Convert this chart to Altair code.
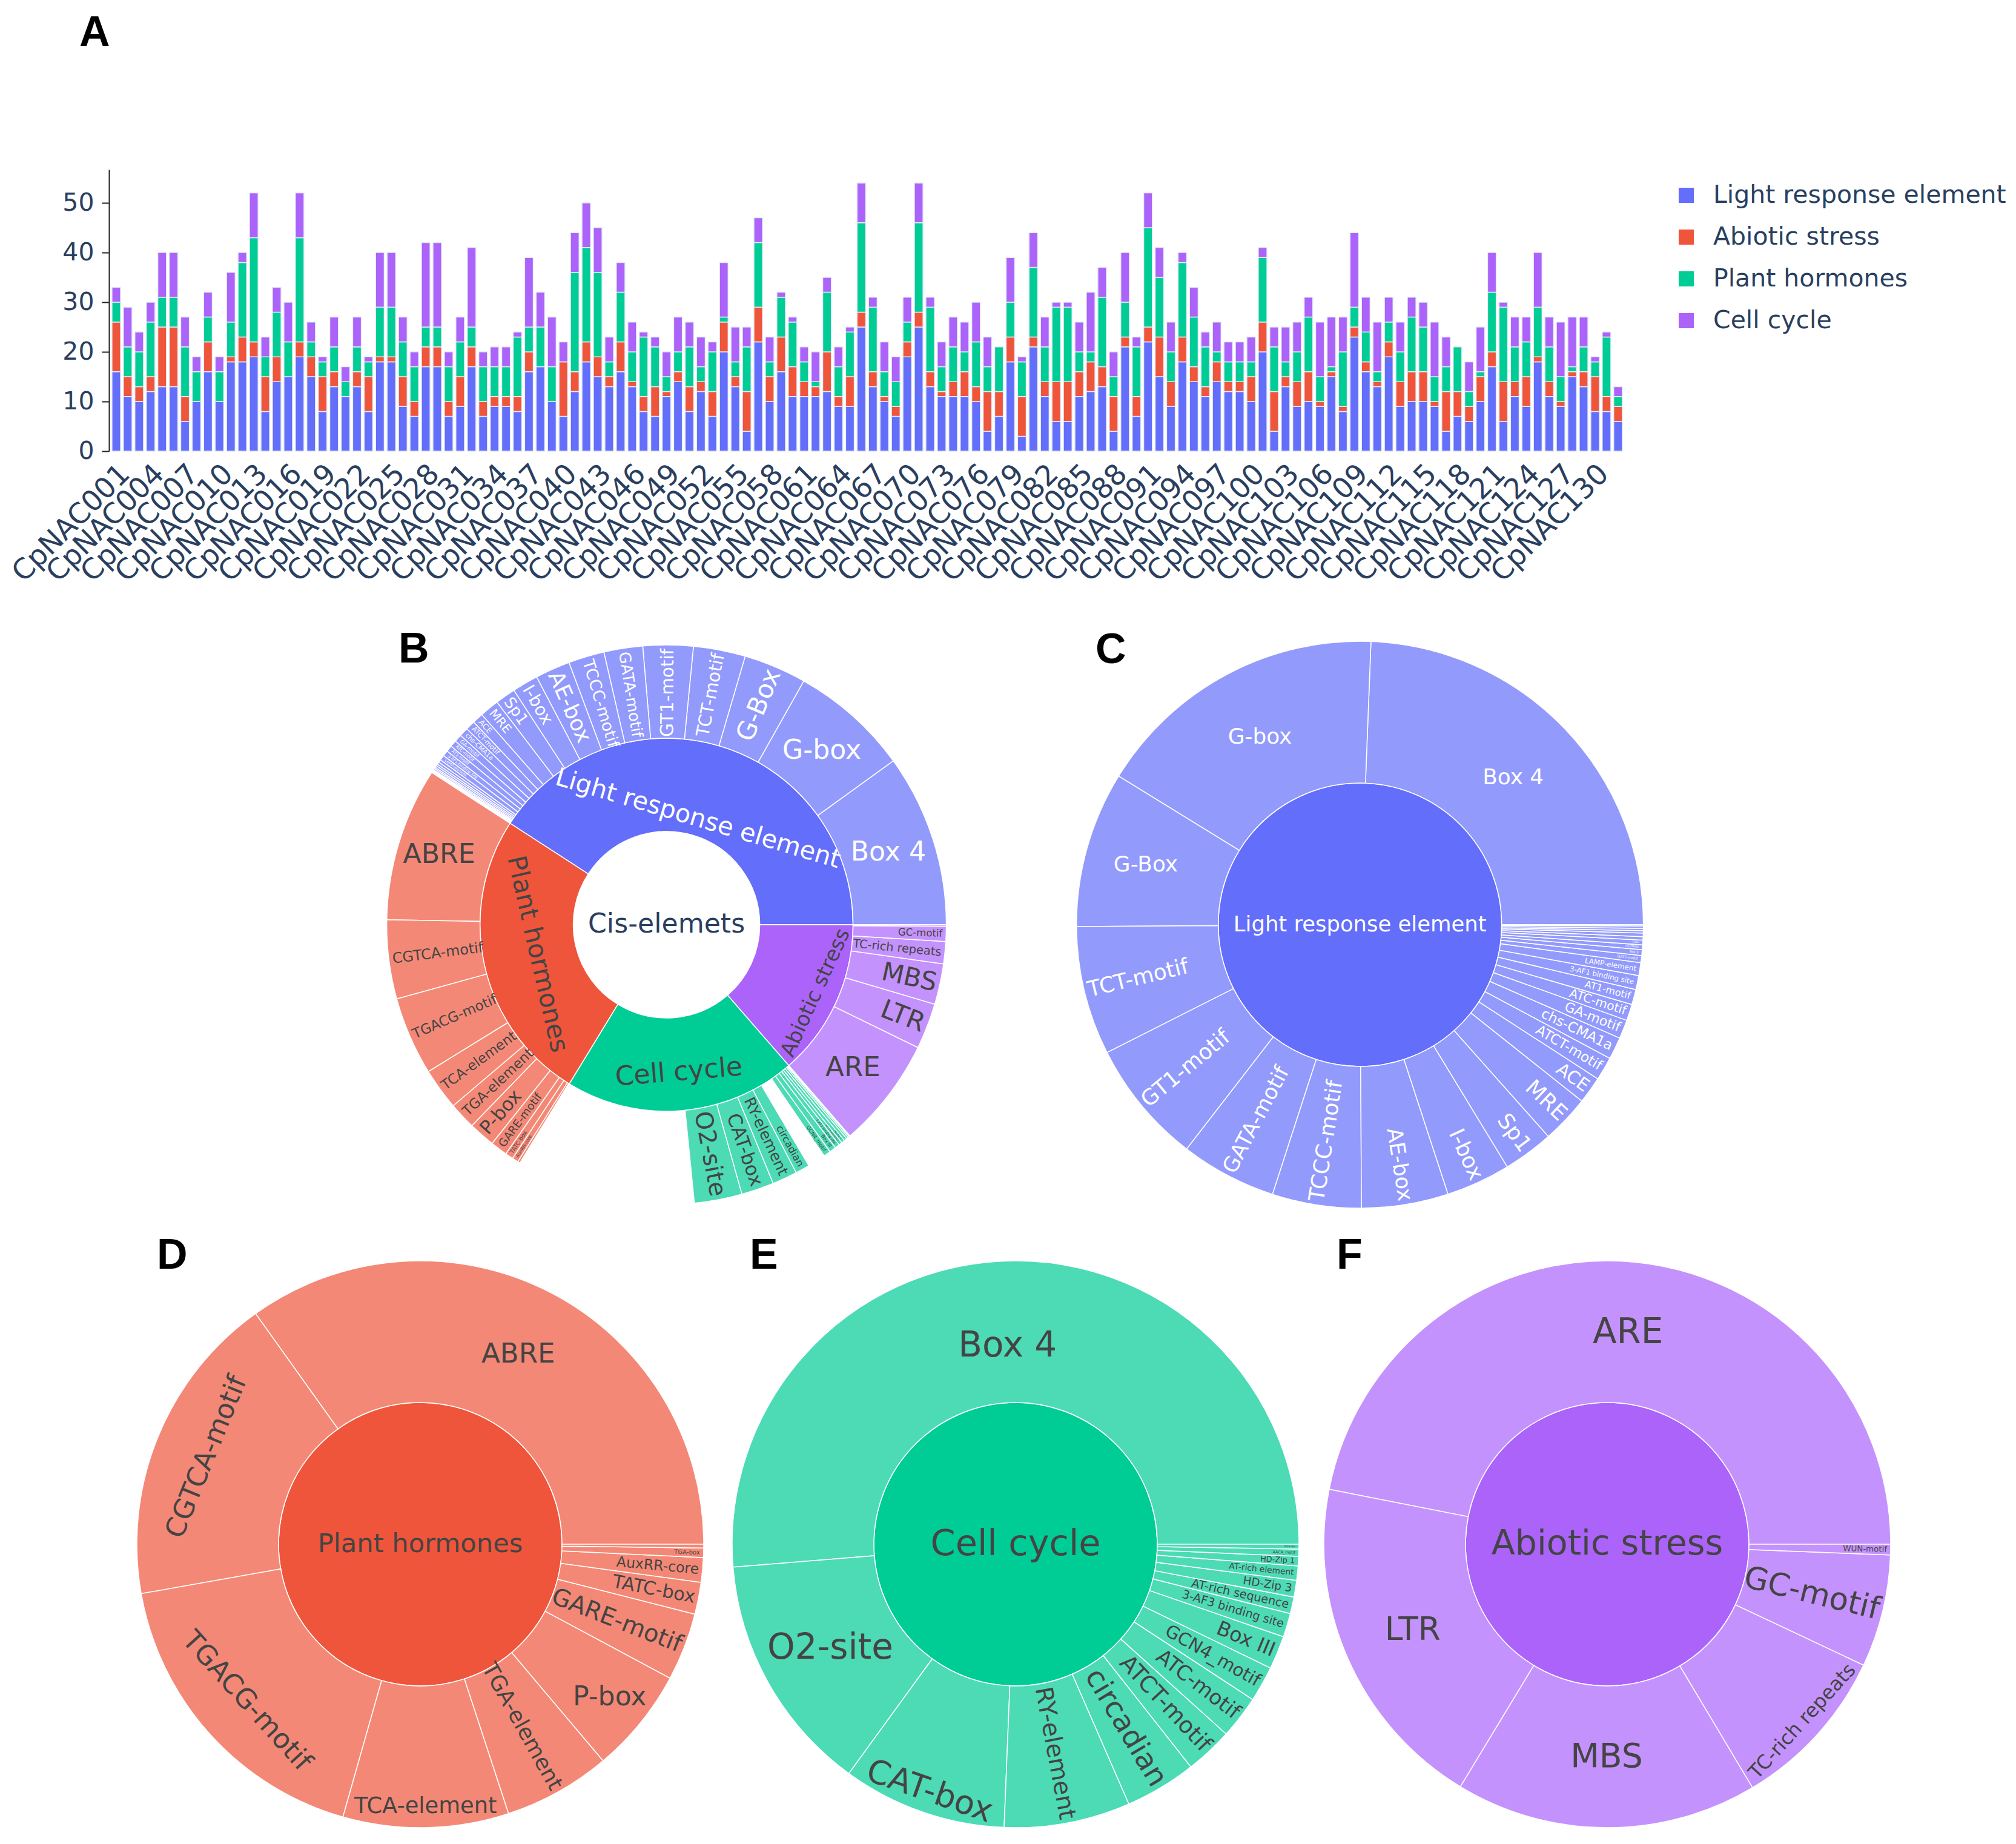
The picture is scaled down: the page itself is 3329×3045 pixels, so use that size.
import math
import pandas as pd
import altair as alt

# ======================= DATA : panel A =======================
genes = [f"CpNAC{i:03d}" for i in range(1, 133)]

light_response = [16,11,10,12,13,13,6,10,16,10,
                  18,18,19,8,14,15,19,15,8,13,
                  11,13,8,18,18,9,7,17,17,7,
                  9,17,7,9,9,8,16,17,10,7,
                  12,18,15,13,16,13,8,7,11,14,
                  8,12,7,20,13,4,22,10,16,11,
                  11,11,12,9,9,25,13,10,7,19,
                  25,13,11,11,11,10,4,7,18,3,
                  21,11,6,6,11,12,13,4,21,7,
                  22,15,9,18,14,11,14,12,12,10,
                  20,4,13,9,10,9,15,8,23,16,
                  13,19,9,10,10,9,4,7,6,10,
                  17,6,11,9,18,11,9,15,13,8,
                  8,6]
abiotic_stress = [10,4,3,3,12,12,5,0,6,0,
                  1,5,3,7,5,0,3,4,7,3,
                  0,3,7,1,1,6,3,4,4,3,
                  6,4,3,2,2,3,4,0,0,11,
                  4,4,4,2,6,1,3,6,1,2,
                  5,2,5,6,2,8,7,5,7,6,
                  3,2,8,2,6,3,3,1,2,3,
                  3,3,1,3,5,3,8,5,5,8,
                  2,3,8,8,5,6,4,7,2,4,
                  3,8,5,5,3,2,4,2,2,5,
                  6,8,2,5,6,1,1,1,2,2,
                  1,3,5,6,6,1,8,5,3,5,
                  3,8,3,6,1,3,1,1,3,7,
                  3,3]
plant_hormones = [4,6,7,11,6,6,10,6,5,6,
                  7,15,21,4,9,7,21,3,3,5,
                  3,5,3,10,10,7,7,4,4,7,
                  7,4,7,6,6,12,5,8,7,0,
                  20,19,17,3,10,6,12,8,3,4,
                  8,3,8,1,3,9,13,3,8,9,
                  4,1,12,6,9,18,13,5,5,4,
                  18,13,5,7,4,9,5,9,7,7,
                  14,7,15,15,4,2,14,4,7,10,
                  20,12,6,15,10,8,2,4,4,3,
                  13,9,3,6,11,5,1,11,4,6,
                  2,4,6,11,9,5,5,9,3,1,
                  12,15,7,7,10,7,5,1,5,3,
                  12,2]
cell_cycle = [3,8,4,4,9,9,6,3,5,3,
              10,2,9,4,5,8,9,4,1,6,
              3,6,1,11,11,5,3,17,17,3,
              5,16,3,4,4,1,14,7,10,4,
              8,9,9,5,6,6,1,2,5,7,
              5,6,2,11,7,4,5,5,1,1,
              3,6,3,4,1,8,2,6,5,5,
              8,2,5,6,6,8,6,0,9,1,
              7,6,1,1,6,12,6,5,10,2,
              7,6,6,2,6,3,6,4,4,5,
              2,4,7,6,4,11,10,7,15,7,
              10,5,6,4,5,11,6,0,6,9,
              8,1,6,5,11,6,11,10,6,1,
              1,2]

bar_categories = ["Light response element", "Abiotic stress", "Plant hormones", "Cell cycle"]
x_tick_labels = genes[::3]
y_ticks = [0, 10, 20, 30, 40, 50]

# ======================= DATA : sunbursts =======================
root_label = "Cis-elemets"
groups = ["Light response element", "Plant hormones", "Cell cycle", "Abiotic stress"]

light_elements = ["Box 4", "G-box", "G-Box", "TCT-motif", "GT1-motif", "GATA-motif", "TCCC-motif",
                  "AE-box", "I-box", "Sp1", "MRE", "ACE", "ATCT-motif", "chs-CMA1a", "GA-motif",
                  "ATC-motif", "AT1-motif", "3-AF1 binding site", "LAMP-element", "GATT-motif",
                  "Box II", "chs-CMA2a", "L-box", "Gap-box", "CAG-motif", "ACA-motif", "AAAC-motif",
                  "4cl-CMA2b", "Pc-CMA2c"]
light_counts = [365, 252, 133, 110, 106, 82, 76, 74, 55, 43, 41, 23, 20, 19, 16, 14, 13, 12, 11,
                6, 5, 4, 4, 3, 3, 2, 2, 2, 1]

hormone_elements = ["ABRE", "CGTCA-motif", "TGACG-motif", "TCA-element", "TGA-element", "P-box",
                    "GARE-motif", "TATC-box", "AuxRR-core", "TGA-box", "SARE"]
hormone_counts = [325, 167, 166, 88, 57, 56, 36, 17, 13, 5, 2]

cell_elements = ["Box 4", "O2-site", "CAT-box", "RY-element", "circadian", "ATCT-motif", "ATC-motif",
                 "GCN4_motif", "Box III", "3-AF3 binding site", "AT-rich sequence", "HD-Zip 3",
                 "AT-rich element", "HD-Zip 1", "AACA_motif", "MSA-like"]
cell_counts = [378, 101, 69, 53, 30, 20, 18, 15, 14, 10, 7, 7, 6, 4, 3, 2]

abiotic_elements = ["ARE", "LTR", "MBS", "TC-rich repeats", "GC-motif", "WUN-motif"]
abiotic_counts = [234, 97, 86, 47, 32, 3]

# ======================= STYLE / LAYOUT =======================
W, H = 3313, 3029
M = 8                      # page margin: reference px -> chart px
FONT = "DejaVu Sans"
FSCALE = 0.92              # sunburst label sizes below were measured as Open Sans widths
DARK = "#444444"
NAVY = "#2a3f5f"
bar_colors = ["#636EFA", "#EF553B", "#00CC96", "#AB63FA"]
BASE = {"Light response element": "#636EFA", "Plant hormones": "#EF553B",
        "Cell cycle": "#00CC96", "Abiotic stress": "#AB63FA"}
LEAF = {"Light response element": "#929AFC", "Plant hormones": "#F48876",
        "Cell cycle": "#4CDBB5", "Abiotic stress": "#C492FC"}
TXT = {"Light response element": "white", "Plant hormones": DARK,
       "Cell cycle": DARK, "Abiotic stress": DARK}
TH = alt.Scale(domain=[0, 1], range=[2.5 * math.pi, 0.5 * math.pi])

children = {
    "Light response element": (light_elements, light_counts),
    "Plant hormones": (hormone_elements, hormone_counts),
    "Cell cycle": (cell_elements, cell_counts),
    "Abiotic stress": (abiotic_elements, abiotic_counts),
}

# label styles: (orientation, font size, [radial fraction])
B_inner_style = {"Light response element": ("t", 45, 0.18), "Plant hormones": ("t", 46, 0.42),
                 "Cell cycle": ("t", 48, 0.59), "Abiotic stress": ("t", 37, 0.76)}
B_outer_style = {
    ("Light response element", "Box 4"): ("h", 48, 0.5),
    ("Light response element", "G-box"): ("h", 48, 0.5),
    ("Light response element", "G-Box"): ("r", 46),
    ("Light response element", "TCT-motif"): ("r", 32),
    ("Light response element", "GT1-motif"): ("r", 32),
    ("Light response element", "GATA-motif"): ("r", 28),
    ("Light response element", "TCCC-motif"): ("r", 29),
    ("Light response element", "AE-box"): ("r", 39),
    ("Light response element", "I-box"): ("r", 31),
    ("Light response element", "Sp1"): ("r", 28),
    ("Light response element", "MRE"): ("r", 22),
    ("Plant hormones", "ABRE"): ("h", 48, 0.55),
    ("Plant hormones", "CGTCA-motif"): ("r", 26),
    ("Plant hormones", "TGACG-motif"): ("r", 25),
    ("Plant hormones", "TCA-element"): ("r", 25),
    ("Plant hormones", "TGA-element"): ("r", 25),
    ("Plant hormones", "P-box"): ("r", 34),
    ("Plant hormones", "GARE-motif"): ("r", 20),
    ("Cell cycle", "O2-site"): ("r", 43),
    ("Cell cycle", "CAT-box"): ("r", 34),
    ("Cell cycle", "RY-element"): ("r", 27),
    ("Cell cycle", "circadian"): ("r", 18),
    ("Abiotic stress", "ARE"): ("h", 49, 0.52),
    ("Abiotic stress", "LTR"): ("r", 47),
    ("Abiotic stress", "MBS"): ("r", 46),
    ("Abiotic stress", "TC-rich repeats"): ("r", 21),
    ("Abiotic stress", "GC-motif"): ("r", 18),
}
B_hidden = {("Cell cycle", "Box 4"), ("Cell cycle", "ATCT-motif"), ("Cell cycle", "ATC-motif")}

single_panels = [
    # group, center(ref px), center font, outer styles
    ("Light response element", (2245.7, 1527), 38.5, {
        "Box 4": ("h", 39, 0.5), "G-box": ("h", 39, 0.5), "G-Box": ("h", 39, 0.57),
        "TCT-motif": ("r", 39), "GT1-motif": ("r", 39), "GATA-motif": ("r", 38),
        "TCCC-motif": ("r", 39), "AE-box": ("r", 38), "I-box": ("r", 39), "Sp1": ("r", 39),
        "MRE": ("r", 39), "ACE": ("r", 32), "ATCT-motif": ("r", 25), "chs-CMA1a": ("r", 25),
        "GA-motif": ("r", 24), "ATC-motif": ("r", 22), "AT1-motif": ("r", 17.5),
        "3-AF1 binding site": ("r", 13), "LAMP-element": ("r", 13)}),
    ("Plant hormones", (694, 2550), 47, {
        "ABRE": ("h", 49, 0.51), "CGTCA-motif": ("t", 49, 0.63), "TGACG-motif": ("t", 49, 0.65),
        "TCA-element": ("h", 40, 0.85), "TGA-element": ("r", 39), "P-box": ("h", 48, 0.72),
        "GARE-motif": ("r", 43), "TATC-box": ("r", 33), "AuxRR-core": ("r", 25.7),
        "TGA-box": ("r", 11)}),
    ("Cell cycle", (1677, 2550), 64, {
        "Box 4": ("h", 63, 0.4), "O2-site": ("h", 63, 0.5), "CAT-box": ("t", 59, 0.85),
        "RY-element": ("r", 43), "circadian": ("r", 52), "ATCT-motif": ("r", 41),
        "ATC-motif": ("r", 37), "GCN4_motif": ("r", 32), "Box III": ("r", 36),
        "3-AF3 binding site": ("r", 21), "AT-rich sequence": ("r", 21), "HD-Zip 3": ("r", 20),
        "AT-rich element": ("r", 15), "HD-Zip 1": ("r", 14)}),
    ("Abiotic stress", (2654, 2550), 62, {
        "ARE": ("h", 63, 0.5), "LTR": ("h", 58, 0.5), "MBS": ("h", 60, 0.5),
        "TC-rich repeats": ("t", 35, 0.86), "GC-motif": ("r", 56), "WUN-motif": ("r", 14.5)}),
]
B_center = (1100.6, 1527)
B_radii = (154, 308, 462)
S_radii = (234, 468)

letters = [("A", 131, 76), ("B", 658, 1094), ("C", 1809, 1095),
           ("D", 259, 2095), ("E", 1238, 2095), ("F", 2207, 2095)]


# ======================= helpers =======================
def cumulate(counts, total):
    out, acc = [], 0.0
    for c in counts:
        out.append((acc / total, (acc + c) / total))
        acc += c
    return out


def auto_font(name, r0, r1, dt, cap=14.0):
    dth = dt * 2 * math.pi
    return min(cap, 1.15 * r0 * dth, (r1 - r0 - 10) / (0.56 * len(name)))


def label_row(label, t0, t1, r0, r1, spec, color):
    tm = (t0 + t1) / 2.0
    phi = 360.0 * tm
    orient, fs = spec[0], spec[1]
    rfrac = spec[2] if len(spec) > 2 else 0.5
    if orient == "h":
        rot, align, r = 0.0, "center", r0 + rfrac * (r1 - r0)
    elif orient == "t":
        rot = (90.0 - phi) % 360.0
        if 90.0 < rot <= 270.0:
            rot -= 180.0
        align, r = "center", r0 + rfrac * (r1 - r0)
    else:
        rot = (-phi) % 360.0
        flipped = 90.0 < rot <= 270.0
        if flipped:
            rot -= 180.0
        align = "left" if flipped else "right"
        r = r1 - 6.0
    return dict(label=label, tm=tm, r=r, rot=rot % 360.0, fs=fs * FSCALE, tc=color, align=align)


def arc_layer(rows, cx, cy, r0, r1):
    df = pd.DataFrame(rows)
    return alt.Chart(df).mark_arc(radius=r1, radius2=r0, stroke="white", strokeWidth=1.5).encode(
        theta=alt.Theta("t0:Q", scale=TH, stack=None),
        theta2="t1:Q",
        fill=alt.Fill("fill:N", scale=None),
        x=alt.value(cx), y=alt.value(cy),
    )


def text_layers(rows, cx, cy):
    df = pd.DataFrame(rows)
    out = []
    for al in ["center", "right", "left"]:
        sub = df[df["align"] == al]
        if len(sub) == 0:
            continue
        out.append(alt.Chart(sub).mark_text(align=al, baseline="middle", font=FONT).encode(
            theta=alt.Theta("tm:Q", scale=TH, stack=None),
            radius=alt.Radius("r:Q", scale=None),
            text="label:N",
            angle=alt.Angle("rot:Q", scale=None),
            size=alt.Size("fs:Q", scale=None),
            fill=alt.Fill("tc:N", scale=None),
            x=alt.value(cx), y=alt.value(cy),
        ))
    return out


layers = []

# ======================= panel A : stacked bars =======================
rows = []
for k, (cat, vals) in enumerate(zip(bar_categories,
                                    [light_response, abiotic_stress, plant_hormones, cell_cycle])):
    for g, v in zip(genes, vals):
        if v > 0:
            rows.append(dict(gene=g, category=cat, value=v, ord=k))
bars_df = pd.DataFrame(rows)

STEP = 18.93
X0 = 182.5 - M
Y_ZERO = 745 - M
Y_TOP = 280 - M
Y_MAX = (745 - 280) / 8.2

bars = alt.Chart(bars_df).mark_bar(stroke="#E5ECF6", strokeWidth=1.5).encode(
    x=alt.X("gene:N", sort=genes,
            scale=alt.Scale(range=[X0, X0 + STEP * len(genes)], paddingInner=0.25, paddingOuter=0.125),
            axis=alt.Axis(values=x_tick_labels, labelAngle=-45, labelAlign="right",
                          labelBaseline="middle", labelFontSize=47, labelFont=FONT,
                          labelColor=NAVY, ticks=False, domain=False, labelPadding=30,
                          labelOffset=15, labelLimit=1000, labelOverlap=False, title=None,
                          grid=False, offset=Y_ZERO - H)),
    y=alt.Y("value:Q", stack="zero",
            scale=alt.Scale(domain=[0, Y_MAX], range=[Y_ZERO, Y_TOP], nice=False),
            axis=alt.Axis(values=y_ticks, offset=-(180 - M), tickSize=12, tickWidth=2,
                          tickColor="#222222", domainColor="#222222", domainWidth=2,
                          labelFontSize=41, labelFont=FONT, labelColor=NAVY, labelPadding=13,
                          grid=False, title=None)),
    color=alt.Color("category:N", scale=alt.Scale(domain=bar_categories, range=bar_colors),
                    legend=alt.Legend(orient="none", legendX=2764 - M, legendY=302 - M,
                                      title=None, symbolType="square", symbolSize=625,
                                      symbolStrokeWidth=0, labelFontSize=41, labelFont=FONT,
                                      labelColor=NAVY, labelOffset=24, rowPadding=27,
                                      padding=0, labelLimit=1000)),
    order=alt.Order("ord:Q"),
)
layers.append(bars)

# ======================= panel B : full sunburst =======================
cx, cy = B_center[0] - M, B_center[1] - M
R0, R1, R2 = B_radii
totals = [sum(children[g][1]) for g in groups]
grand = sum(totals)

inner_rows, inner_txt = [], []
for g, (t0, t1) in zip(groups, cumulate(totals, grand)):
    inner_rows.append(dict(t0=t0, t1=t1, fill=BASE[g]))
    inner_txt.append(label_row(g, t0, t1, R0, R1, B_inner_style[g], TXT[g]))

all_names, all_cats, all_counts = [], [], []
for g in groups:
    names, counts = children[g]
    all_names += names
    all_cats += [g] * len(names)
    all_counts += counts

outer_rows, outer_txt = [], []
for name, g, (t0, t1) in zip(all_names, all_cats, cumulate(all_counts, grand)):
    if (g, name) in B_hidden:
        continue
    outer_rows.append(dict(t0=t0, t1=t1, fill=LEAF[g]))
    spec = B_outer_style.get((g, name))
    if spec is None:
        f = auto_font(name, R1, R2, t1 - t0)
        if f < 4:
            continue
        spec = ("r", f)
    outer_txt.append(label_row(name, t0, t1, R1, R2, spec, TXT[g]))

layers.append(arc_layer(inner_rows, cx, cy, R0, R1))
layers.append(arc_layer(outer_rows, cx, cy, R1, R2))
root_txt = [label_row(root_label, 0, 1, 0, 0, ("h", 48), NAVY)]
layers += text_layers(root_txt + inner_txt + outer_txt, cx, cy)

# ======================= panels C-F : single-group sunbursts =======================
for g, (rx, ry), cfs, style in single_panels:
    cx, cy = rx - M, ry - M
    r0, r1 = S_radii
    names, counts = children[g]
    tot = sum(counts)
    layers.append(arc_layer([dict(t0=0.0, t1=1.0, fill=BASE[g])], cx, cy, 0, r0))
    rws, txt = [], [label_row(g, 0, 1, 0, 0, ("h", cfs), TXT[g])]
    for name, (t0, t1) in zip(names, cumulate(counts, tot)):
        rws.append(dict(t0=t0, t1=t1, fill=LEAF[g]))
        spec = style.get(name)
        if spec is None:
            f = auto_font(name, r0, r1, t1 - t0)
            if f < 4:
                continue
            spec = ("r", f)
        txt.append(label_row(name, t0, t1, r0, r1, spec, TXT[g]))
    layers.append(arc_layer(rws, cx, cy, r0, r1))
    layers += text_layers(txt, cx, cy)

# ======================= panel letters =======================
for L, lx, ly in letters:
    layers.append(alt.Chart(pd.DataFrame({"k": [0]})).mark_text(
        text=L, font="Liberation Sans", fontWeight="bold", fontSize=70,
        align="left", baseline="alphabetic", color="black").encode(
        x=alt.value(lx - M), y=alt.value(ly - M)))

chart = alt.layer(*layers).properties(
    width=W, height=H, padding=0, autosize=alt.AutoSizeParams(type="none")
).configure_view(stroke=None)

chart.save("out.html", embed_options={"renderer": "svg", "actions": False})
